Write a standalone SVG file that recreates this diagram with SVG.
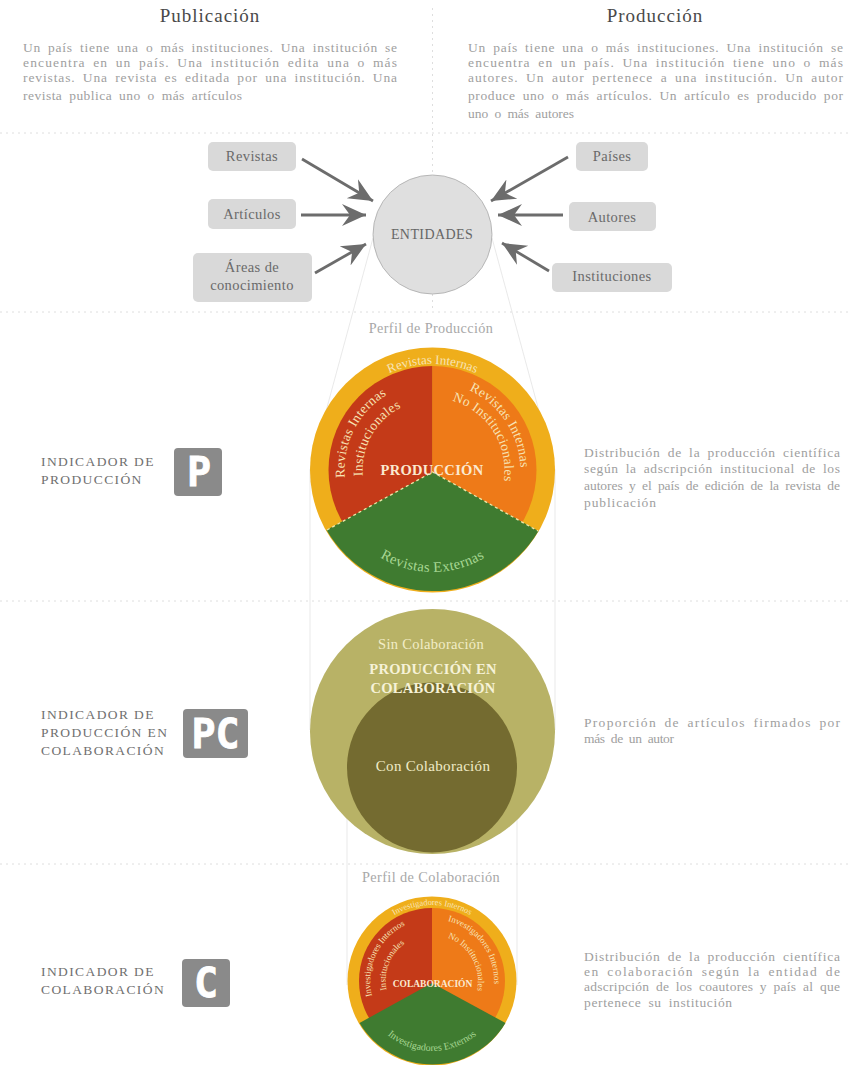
<svg xmlns="http://www.w3.org/2000/svg" width="852" height="1065" viewBox="0 0 852 1065">
<style>
text{font-family:"Liberation Serif","Times New Roman",serif}
.sep{stroke:#dedede;stroke-width:1;stroke-dasharray:2 4;fill:none}
.guide{stroke:#e0e0e0;stroke-width:.7;fill:none}
.arrow{stroke:#6c6c6c;stroke-width:2.8;fill:none;marker-end:url(#ah)}
.title{font-size:19px;fill:#4a4a4a;letter-spacing:1px;text-anchor:middle}
.body{font-size:13.5px;fill:#a0a0a0;word-spacing:3px}
.box{fill:#d9d9d9}
.boxt{font-size:14.5px;fill:#6a6a6a;text-anchor:middle;letter-spacing:.4px}
.ind{font-size:13.5px;fill:#707070;letter-spacing:1.4px}
.ico{fill:#8a8a8a}
.icot{font-family:"DejaVu Sans Mono",monospace;font-weight:700;fill:#fff;stroke:#fff;stroke-width:.8;text-anchor:middle}
.pale{fill:#f7e3b5}
.big{font-size:14.5px;letter-spacing:.3px}
.mid{text-anchor:middle}
</style>
<defs>
<marker id="ah" markerUnits="userSpaceOnUse" markerWidth="28" markerHeight="28" refX="24" refY="14" orient="auto">
<path d="M0,3 L24,14 L0,25 L8,14 Z" fill="#6c6c6c"/>
</marker>
<path id="pTop" d="M326.5,470 A106,106 0 0 1 538.5,470"/>
<path id="pL1" d="M344.8,477.7 A88,88 0 0 1 432.5,382"/>
<path id="pL2" d="M362.8,476 A70,70 0 0 1 432.5,400"/>
<path id="pR1" d="M432.5,382 A88,88 0 0 1 514,503"/>
<path id="pR2" d="M432.5,398 A72,72 0 0 1 496,504"/>
<path id="pBot" d="M330.5,470 A102,102 0 0 0 534.5,470"/>
<path id="cTop" d="M356,981 A76,76 0 0 1 508,981"/>
<path id="cL1" d="M372,996 A62,62 0 0 1 432,919"/>
<path id="cL2" d="M386.500,990 A46,46 0 0 1 432,935"/>
<path id="cR1" d="M432,919 A62,62 0 0 1 488,1008"/>
<path id="cR2" d="M432,935 A46,46 0 0 1 470,1007"/>
<path id="cBot" d="M362,981 A70,70 0 0 0 502,981"/>
</defs>
<rect width="852" height="1065" fill="#fff"/>

<g id="separators">
<path class="sep" d="M0,133H852M0,312H852M0,601H852M0,864H852M432.5,8V175M432.5,294V312"/>
<path class="guide" d="M373,238L310,470V730M492,238L555,470V730M347,790V985M517,790V985"/>
</g>

<g id="text-publicacion">
<text class="title" x="210" y="22">Publicación</text>
<text class="body" x="23" y="52" textLength="374">Un país tiene una o más instituciones. Una institución se</text>
<text class="body" x="23" y="67" textLength="374">encuentra en un país. Una institución edita una o más</text>
<text class="body" x="23" y="82" textLength="374">revistas. Una revista es editada por una institución. Una</text>
<text class="body" x="23" y="100" textLength="219">revista publica uno o más artículos</text>
</g>
<g id="text-produccion">
<text class="title" x="655" y="22">Producción</text>
<text class="body" x="468" y="52" textLength="375">Un país tiene una o más instituciones. Una institución se</text>
<text class="body" x="468" y="67" textLength="375">encuentra en un país. Una institución tiene uno o más</text>
<text class="body" x="468" y="82" textLength="375">autores. Un autor pertenece a una institución. Un autor</text>
<text class="body" x="468" y="100" textLength="375">produce uno o más artículos. Un artículo es producido por</text>
<text class="body" x="468" y="118" textLength="106">uno o más autores</text>
</g>

<g id="connectors">
<line class="arrow" x1="302" y1="159" x2="373" y2="201"/>
<line class="arrow" x1="301" y1="215" x2="366" y2="215"/>
<line class="arrow" x1="315" y1="273" x2="366" y2="244"/>
<line class="arrow" x1="568" y1="157" x2="491" y2="201"/>
<line class="arrow" x1="563" y1="215" x2="498" y2="215"/>
<line class="arrow" x1="549" y1="271" x2="502" y2="243"/>
</g>

<g id="node-revistas"><rect class="box" x="208" y="142" width="88" height="29" rx="5"/><text class="boxt" x="252" y="161">Revistas</text></g>
<g id="node-articulos"><rect class="box" x="208" y="199" width="88" height="30" rx="5"/><text class="boxt" x="252" y="219">Artículos</text></g>
<g id="node-areas"><rect class="box" x="193" y="253" width="119" height="49" rx="5"/><text class="boxt" x="252" y="272">Áreas de</text><text class="boxt" x="252" y="290">conocimiento</text></g>
<g id="node-paises"><rect class="box" x="576" y="142" width="72" height="29" rx="5"/><text class="boxt" x="612" y="161">Países</text></g>
<g id="node-autores"><rect class="box" x="569" y="202" width="87" height="29" rx="5"/><text class="boxt" x="612" y="222">Autores</text></g>
<g id="node-instituciones"><rect class="box" x="552" y="263" width="120" height="29" rx="5"/><text class="boxt" x="612" y="281">Instituciones</text></g>
<g id="node-entidades"><circle cx="432.5" cy="234.5" r="59.5" fill="#dfdfdf" stroke="#aaa" stroke-width=".8"/><text x="432" y="239" font-size="14" fill="#666" text-anchor="middle" letter-spacing=".4">ENTIDADES</text></g>

<text x="431" y="333" font-size="14.2" fill="#a8a8a8" text-anchor="middle" letter-spacing=".4">Perfil de Producción</text>

<g id="node-produccion">
<circle cx="432.5" cy="470" r="122.5" fill="#efae1b"/>
<path d="M432.5,366A104,104 0 0 0 432.5,574Z" fill="#c43a18"/>
<path d="M432.5,366A104,104 0 0 1 432.5,574Z" fill="#ee7a18"/>
<path d="M432.5,472L326.500,530A123,123 0 0 0 538.500,531Z" fill="#3f7b30"/>
<path d="M327,530L432.5,472L538,531" fill="none" stroke="#f0e8a8" stroke-width="1.3" stroke-dasharray="3 3"/>
<text class="pale" font-size="13"><textPath href="#pTop" startOffset="50%" text-anchor="middle">Revistas Internas</textPath></text>
<text class="pale" font-size="13.5" letter-spacing=".3"><textPath href="#pL1">Revistas Internas</textPath></text>
<text class="pale" font-size="13.5" letter-spacing=".3"><textPath href="#pL2">Institucionales</textPath></text>
<text class="pale" font-size="13.5" letter-spacing=".3"><textPath href="#pR1" startOffset="38">Revistas Internas</textPath></text>
<text class="pale" font-size="13.5" letter-spacing=".3"><textPath href="#pR2" startOffset="20">No Institucionales</textPath></text>
<text class="big mid" x="432" y="475" fill="#fbe9d0" font-weight="700">PRODUCCIÓN</text>
<text font-size="14.5" fill="#a8d894" letter-spacing=".4"><textPath href="#pBot" startOffset="50%" text-anchor="middle">Revistas Externas</textPath></text>
</g>

<g id="node-colaboracion">
<circle cx="432.5" cy="731.5" r="122.5" fill="#b8b266"/>
<circle cx="432" cy="767.5" r="85" fill="#746b30"/>
<text x="431" y="649" font-size="14.5" fill="#f2edc6" text-anchor="middle" letter-spacing=".3">Sin Colaboración</text>
<text x="433" y="674" class="big mid" fill="#f6f2d8" font-weight="700">PRODUCCIÓN EN</text>
<text x="433" y="693" class="big mid" fill="#f6f2d8" font-weight="700">COLABORACIÓN</text>
<text x="433" y="771" font-size="15" fill="#f0ebc8" text-anchor="middle" letter-spacing=".3">Con Colaboración</text>
</g>

<text x="431" y="882" font-size="14.3" fill="#a8a8a8" text-anchor="middle" letter-spacing=".4">Perfil de Colaboración</text>

<g id="node-perfil-colaboracion">
<circle cx="432" cy="981" r="84.5" fill="#efae1b"/>
<path d="M432,908A73,73 0 0 0 432,1054Z" fill="#c43a18"/>
<path d="M432,908A73,73 0 0 1 432,1054Z" fill="#ee7a18"/>
<path d="M432,983L359.500,1023A85,85 0 0 0 505.500,1023Z" fill="#3f7b30"/>
<text class="pale" font-size="8.5"><textPath href="#cTop" startOffset="50%" text-anchor="middle">Investigadores Internos</textPath></text>
<text class="pale" font-size="9"><textPath href="#cL1">Investigadores Internos</textPath></text>
<text class="pale" font-size="9"><textPath href="#cL2">Institucionales</textPath></text>
<text class="pale" font-size="9"><textPath href="#cR1" startOffset="16">Investigadores Internos</textPath></text>
<text class="pale" font-size="9"><textPath href="#cR2" startOffset="16">No Institucionales</textPath></text>
<text x="432.5" y="987" class="mid" font-size="9.5" fill="#fbe9d0" font-weight="700">COLABORACIÓN</text>
<text font-size="10" fill="#a8d894"><textPath href="#cBot" startOffset="50%" text-anchor="middle">Investigadores Externos</textPath></text>
</g>

<g id="indicador-p">
<text class="ind" x="41" y="466">INDICADOR DE</text><text class="ind" x="41" y="484">PRODUCCIÓN</text>
<rect class="ico" x="174" y="448" width="48" height="48" rx="4"/><text class="icot" x="199" y="486" font-size="40">P</text>
<text class="body" x="584" y="457" textLength="256">Distribución de la producción científica</text>
<text class="body" x="584" y="473" textLength="256">según la adscripción institucional de los</text>
<text class="body" x="584" y="490" textLength="256">autores y el país de edición de la revista de</text>
<text class="body" x="584" y="507" textLength="72">publicación</text>
</g>
<g id="indicador-pc">
<text class="ind" x="41" y="719">INDICADOR DE</text><text class="ind" x="41" y="737">PRODUCCIÓN EN</text><text class="ind" x="41" y="755">COLABORACIÓN</text>
<rect class="ico" x="183" y="709" width="65" height="49" rx="4"/><text class="icot" x="215.500" y="748" font-size="40">PC</text>
<text class="body" x="584" y="727" textLength="256">Proporción de artículos firmados por</text>
<text class="body" x="584" y="743" textLength="90">más de un autor</text>
</g>
<g id="indicador-c">
<text class="ind" x="41" y="976">INDICADOR DE</text><text class="ind" x="41" y="994">COLABORACIÓN</text>
<rect class="ico" x="182" y="959" width="48" height="48" rx="4"/><text class="icot" x="206" y="997" font-size="40">C</text>
<text class="body" x="584" y="961" textLength="256">Distribución de la producción científica</text>
<text class="body" x="584" y="976" textLength="256">en colaboración según la entidad de</text>
<text class="body" x="584" y="991" textLength="256">adscripción de los coautores y país al que</text>
<text class="body" x="584" y="1007" textLength="148">pertenece su institución</text>
</g>
</svg>
